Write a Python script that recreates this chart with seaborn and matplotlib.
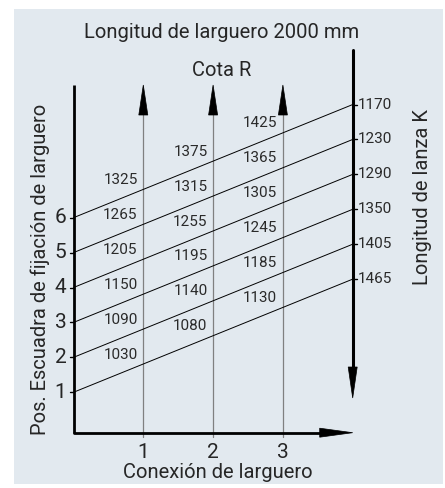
import numpy as np
import pandas as pd
import matplotlib
matplotlib.use("Agg")
import matplotlib.pyplot as plt
from matplotlib.patches import Rectangle, Polygon
import seaborn as sns

# ---- data ----
positions = [1, 2, 3, 4, 5, 6]                 # Pos. escuadra de fijación
conexion = [1, 2, 3]                           # Conexión de larguero
cota_r_con1 = [1030, 1090, 1150, 1205, 1265, 1325]
cota_r_con2 = [1080, 1140, 1195, 1255, 1315, 1375]
cota_r_con3 = [1130, 1185, 1245, 1305, 1365, 1425]
lanza_k = [1465, 1405, 1350, 1290, 1230, 1170]  # right-hand scale, per position
rise_per_step = 0.81                            # slope of each position line
scale_x = 4                                     # x of the K scale

sns.set_theme(style="white")
plt.rcParams["font.family"] = ["Liberation Sans Narrow", "Roboto", "DejaVu Sans"]

W, H = 445, 488
fig = plt.figure(figsize=(W / 100, H / 100), dpi=100)
fig.patch.set_facecolor("white")
ax = fig.add_axes([0, 0, 1, 1])
ax.patch.set_visible(False)
ax.set_zorder(2)

# pixel mapping of the diagram
px_per_x, x0_px = 69.8, 73.5
px_per_y, y0_px = 34.92, 427.2

# panel background
fig.patches.append(Rectangle((14 / W, 4 / H), (443 - 14) / W, (484 - 9) / H,
                             transform=fig.transFigure, facecolor="#e2e9ef",
                             edgecolor="none", zorder=-1))

def head(tip, direction, length_px, width_px, color="black"):
    tx, ty = tip
    dx, dy = direction
    L = length_px
    hw = width_px / 2
    if dx == 0:
        bx, by = tx, ty - dy * L / px_per_y
        pts = [(tx, ty), (bx - hw / px_per_x, by), (bx + hw / px_per_x, by)]
    else:
        bx, by = tx - dx * L / px_per_x, ty
        pts = [(tx, ty), (bx, by - hw / px_per_y), (bx, by + hw / px_per_y)]
    ax.add_patch(Polygon(pts, closed=True, facecolor=color, edgecolor=color, lw=0.5, zorder=5))

y_base = (y0_px - 432.7) / px_per_y
y_top = (y0_px - 85) / px_per_y
y_k_top = (y0_px - 50) / px_per_y
y_k_tip = (y0_px - 398) / px_per_y

# position lines
df = pd.DataFrame(
    [(p, x, p + rise_per_step * x) for p in positions for x in (0, scale_x)],
    columns=["pos", "x", "y"],
)
sns.lineplot(data=df, x="x", y="y", units="pos", estimator=None,
             color="black", lw=0.7, ax=ax, legend=False, zorder=3)
ax.set_xlim(-x0_px / px_per_x, (W - x0_px) / px_per_x)
ax.set_ylim((y0_px - H) / px_per_y, y0_px / px_per_y)
ax.axis("off")

# axes of the diagram
ax.plot([0, 0], [y_base, y_top], color="black", lw=2, zorder=4, solid_capstyle="butt")
ax.plot([0, scale_x - 30 / px_per_x], [y_base, y_base], color="black", lw=2, zorder=4)
head((scale_x, y_base), (1, 0), 33, 9)
for c in conexion:
    ax.plot([c, c], [y_base - 0.12, y_top - 0.5], color="#808080", lw=0.9, zorder=2)
    head((c, y_top), (0, 1), 30, 9)
ax.plot([scale_x, scale_x], [y_k_tip + 0.5, y_k_top], color="black", lw=2.2, zorder=4)
head((scale_x, y_k_tip), (0, -1), 31, 9)

# ticks
for p in positions:
    ax.plot([-4 / px_per_x, 0], [p, p], color="black", lw=1, zorder=4)
    yk = p + rise_per_step * scale_x
    ax.plot([scale_x, scale_x + 4 / px_per_x], [yk, yk], color="black", lw=1, zorder=4)

# Cota R values
for c, col in zip(conexion, [cota_r_con1, cota_r_con2, cota_r_con3]):
    for p, v in zip(positions, col):
        ax.text(c - 0.08, p + rise_per_step * c + 0.27, str(v), ha="right",
                va="center", fontsize=11, color="#2a2a2a")

# Longitud de lanza K scale
for p, k in zip(positions, lanza_k):
    ax.text(scale_x + 0.07, p + rise_per_step * scale_x, str(k), ha="left",
            va="center", fontsize=11, color="#2a2a2a")

# tick labels
for p in positions:
    ax.text(-7 / px_per_x, p, str(p), ha="right", va="center", fontsize=15)
for c in conexion:
    ax.text(c, (y0_px - 452) / px_per_y, str(c), ha="center", va="center", fontsize=15)

# titles
fig.text(222 / W, 1 - 32 / H, "Longitud de larguero 2000 mm", ha="center", va="center", fontsize=14.5)
fig.text(222 / W, 1 - 70 / H, "Cota R", ha="center", va="center", fontsize=14.5)
fig.text(40 / W, 1 - 269 / H, "Pos. Escuadra de fijación de larguero", rotation=90,
         ha="center", va="center", fontsize=14.5)
fig.text(422 / W, 1 - 197 / H, "Longitud de lanza K", rotation=90,
         ha="center", va="center", fontsize=14.5)
fig.text(218 / W, 1 - 473 / H, "Conexión de larguero", ha="center", va="center", fontsize=14.5)

fig.savefig("out.png", dpi=100)
